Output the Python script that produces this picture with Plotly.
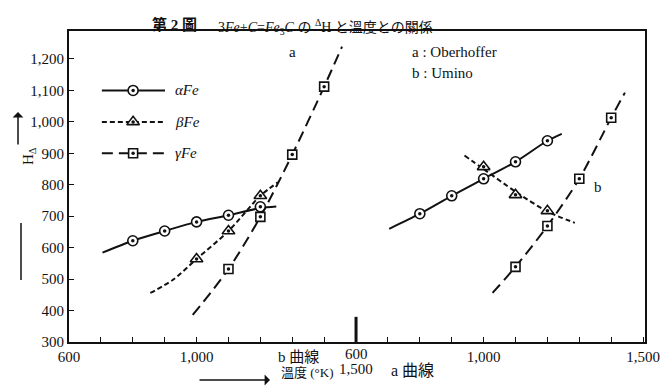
import plotly.graph_objects as go

# ---------------- data ----------------
# a : Oberhoffer (left half, temperature axis 600..1500 K)
a_alpha_T = [800, 900, 1000, 1100, 1200]
a_alpha_H = [622, 653, 682, 703, 730]
a_alpha_curve_T = [705, 800, 900, 1000, 1100, 1200, 1250]
a_alpha_curve_H = [584, 622, 653, 682, 703, 726, 731]

a_beta_T = [1000, 1100, 1200]
a_beta_H = [564, 653, 765]
a_beta_curve_T = [855, 925, 1000, 1100, 1200, 1255]
a_beta_curve_H = [456, 497, 564, 653, 765, 808]

a_gamma_T = [1100, 1200, 1300, 1400]
a_gamma_H = [532, 698, 896, 1112]
a_gamma_curve_T = [988, 1100, 1200, 1300, 1400, 1456]
a_gamma_curve_H = [386, 532, 698, 896, 1112, 1239]

# b : Umino (right half, temperature axis 600..1500 K)
b_alpha_T = [800, 900, 1000, 1100, 1200]
b_alpha_H = [708, 765, 819, 873, 940]
b_alpha_curve_T = [704, 800, 900, 1000, 1100, 1200, 1245]
b_alpha_curve_H = [660, 708, 765, 819, 873, 940, 962]

b_beta_T = [1000, 1100, 1200]
b_beta_H = [857, 768, 717]
b_beta_curve_T = [940, 1000, 1100, 1200, 1286]
b_beta_curve_H = [893, 850, 778, 715, 679]

b_gamma_T = [1100, 1200, 1300, 1400]
b_gamma_H = [539, 669, 819, 1013]
b_gamma_curve_T = [1028, 1100, 1200, 1300, 1400, 1443]
b_gamma_curve_H = [456, 539, 669, 819, 1013, 1093]

y_ticks = [300, 400, 500, 600, 700, 800, 900, 1000, 1100, 1200]
a_ticks_T = [600, 700, 800, 900, 1000, 1100, 1200, 1300, 1400, 1500]
b_ticks_T = [700, 800, 900, 1000, 1100, 1200, 1300, 1400, 1500]
a_tick_labels = {600: "600", 1000: "1,000"}
b_tick_labels = {1000: "1,000", 1500: "1,500"}

legend_names = ["<i>αFe</i>", "<i>βFe</i>", "<i>γFe</i>"]
legend_H = [1100, 1000, 900]

# ---------------- helpers ----------------
A_SHIFT = -600   # left half starts at 600 K
B_SHIFT = 300    # right half starts after 900 units


def xa(T):
    return [t + A_SHIFT for t in T]


def xb(T):
    return [t + B_SHIFT for t in T]


SERIF = "Liberation Serif, DejaVu Serif, serif"
JP = "Liberation Serif, Noto Sans CJK JP, serif"
INK = "#111111"

styles = {
    "alpha": dict(dash="solid", symbol="circle", size=10),
    "beta": dict(dash="5px,3px", symbol="triangle-up", size=11),
    "gamma": dict(dash="11px,6px", symbol="square", size=9),
}

fig = go.Figure()


def add_series(cx, cy, mx, my, kind):
    st = styles[kind]
    fig.add_trace(go.Scatter(
        x=cx, y=cy, mode="lines",
        line=dict(color=INK, width=2, dash=st["dash"], shape="spline", smoothing=0.8),
        showlegend=False, hoverinfo="skip"))
    fig.add_trace(go.Scatter(
        x=mx, y=my, mode="markers",
        marker=dict(symbol=st["symbol"], size=st["size"], color="white",
                    line=dict(color=INK, width=1.6)),
        showlegend=False))
    fig.add_trace(go.Scatter(
        x=mx, y=my, mode="markers",
        marker=dict(symbol="circle", size=3.5, color=INK),
        showlegend=False, hoverinfo="skip"))


add_series(xa(a_alpha_curve_T), a_alpha_curve_H, xa(a_alpha_T), a_alpha_H, "alpha")
add_series(xa(a_beta_curve_T), a_beta_curve_H, xa(a_beta_T), a_beta_H, "beta")
add_series(xa(a_gamma_curve_T), a_gamma_curve_H, xa(a_gamma_T), a_gamma_H, "gamma")
add_series(xb(b_alpha_curve_T), b_alpha_curve_H, xb(b_alpha_T), b_alpha_H, "alpha")
add_series(xb(b_beta_curve_T), b_beta_curve_H, xb(b_beta_T), b_beta_H, "beta")
add_series(xb(b_gamma_curve_T), b_gamma_curve_H, xb(b_gamma_T), b_gamma_H, "gamma")

# hand-drawn legend keys inside the frame
LEG_X0, LEG_X1, LEG_XM, LEG_XT = 103, 301, 201, 326
for name, hy, kind in zip(legend_names, legend_H, ["alpha", "beta", "gamma"]):
    add_series([LEG_X0, LEG_X1], [hy, hy], [LEG_XM], [hy], kind)
    fig.add_annotation(x=LEG_XT, y=hy, text=name, showarrow=False, xanchor="left",
                       font=dict(family=SERIF, size=15, color=INK))

# ---------------- axes ----------------
tickvals = xa(a_ticks_T) + xb(b_ticks_T)
ticktext = [a_tick_labels.get(t, "") for t in a_ticks_T] + [b_tick_labels.get(t, "") for t in b_ticks_T]

fig.update_xaxes(range=[0, 1806], tickvals=tickvals, ticktext=ticktext,
                 ticks="inside", ticklen=5, tickwidth=1.3, tickcolor=INK,
                 showline=True, linewidth=2, linecolor=INK, mirror=True,
                 showgrid=False, zeroline=False,
                 tickfont=dict(family=SERIF, size=15, color=INK))
fig.update_yaxes(range=[300, 1289], tickvals=y_ticks,
                 ticktext=[f"{v:,}" for v in y_ticks],
                 ticks="inside", ticklen=5, tickwidth=1.3, tickcolor=INK,
                 showline=True, linewidth=2, linecolor=INK, mirror=True,
                 showgrid=False, zeroline=False,
                 tickfont=dict(family=SERIF, size=15, color=INK))

# middle divider tick between the two temperature scales
fig.add_shape(type="line", xref="x", yref="y", x0=900, x1=900, y0=300, y1=380,
              line=dict(color=INK, width=3))

# ---------------- text ----------------
L, T_, W, H = 69, 31, 576, 311


def px(v):
    return (v - L) / W


def py(v):
    return (T_ + H - v) / H


fig.add_annotation(xref="paper", yref="paper", x=px(150), y=py(14), xanchor="left",
                   text="<b>第 2 圖</b>", showarrow=False,
                   font=dict(family=JP, size=15, color=INK))
fig.add_annotation(xref="paper", yref="paper", x=px(216), y=py(15), xanchor="left",
                   text="3<i>Fe</i>+<i>C</i>=<i>Fe</i><sub>3</sub><i>C</i> の <sup>Δ</sup>H と溫度との關係",
                   showarrow=False, font=dict(family=JP, size=14, color=INK))

fig.add_annotation(x=702, y=1222, text="a", showarrow=False,
                   font=dict(family=SERIF, size=15, color=INK))
fig.add_annotation(x=1069, y=1222, text="a : Oberhoffer", showarrow=False, xanchor="left",
                   font=dict(family=SERIF, size=15, color=INK))
fig.add_annotation(x=1069, y=1156, text="b : Umino", showarrow=False, xanchor="left",
                   font=dict(family=SERIF, size=15, color=INK))
fig.add_annotation(x=1659, y=793, text="b", showarrow=False,
                   font=dict(family=SERIF, size=15, color=INK))

# labels at the junction of the two scales
fig.add_annotation(x=900, xref="x", y=0, yref="paper", yanchor="middle", yshift=-12,
                   text="600", showarrow=False, font=dict(family=SERIF, size=15, color=INK))
fig.add_annotation(x=900, xref="x", y=0, yref="paper", yanchor="middle", yshift=-27,
                   text="1,500", showarrow=False, font=dict(family=SERIF, size=15, color=INK))
fig.add_annotation(xref="paper", yref="paper", x=px(298), y=py(357), yanchor="middle",
                   text="b 曲線", showarrow=False, font=dict(family=JP, size=15, color=INK))
fig.add_annotation(xref="paper", yref="paper", x=px(412), y=py(370), yanchor="middle",
                   text="a 曲線", showarrow=False, font=dict(family=JP, size=16, color=INK))

# x-axis title with arrow
fig.add_annotation(xref="paper", yref="paper", x=px(270), y=py(380), ax=-72, ay=0,
                   text="", showarrow=True, arrowhead=1, arrowsize=1.2, arrowwidth=1.5,
                   arrowcolor=INK)
fig.add_annotation(xref="paper", yref="paper", x=px(307), y=py(382),
                   text="溫度 (°K)", showarrow=False, font=dict(family=JP, size=13, color=INK))

# y-axis title with arrow
fig.add_annotation(xref="paper", yref="paper", x=px(18), y=py(156), textangle=-90,
                   text="H<sub>Δ</sub>", showarrow=False,
                   font=dict(family=SERIF, size=15, color=INK))
fig.add_annotation(xref="paper", yref="paper", x=px(18), y=py(112), ax=0, ay=34,
                   text="", showarrow=True, arrowhead=1, arrowsize=1.2, arrowwidth=1.5,
                   arrowcolor=INK)
fig.add_shape(type="line", xref="paper", yref="paper", x0=px(21), x1=px(21),
              y0=py(223), y1=py(280), line=dict(color=INK, width=1.5))

fig.update_layout(width=672, height=392,
                  margin=dict(l=L, r=672 - L - W, t=T_, b=392 - T_ - H),
                  paper_bgcolor="white", plot_bgcolor="white", showlegend=False)

fig.write_html("out.html")
